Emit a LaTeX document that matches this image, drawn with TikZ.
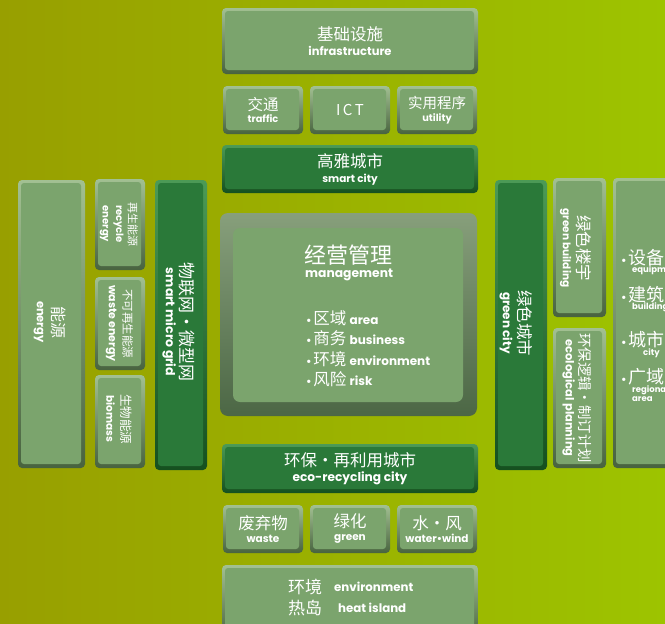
\documentclass[tikz,border=0pt]{standalone}
\usepackage{fontspec}
\newfontfamily\zhf{Noto Sans CJK SC}
\newfontfamily\enf{Poppins}
\newcommand\ZH[2]{{\zhf\fontsize{#1}{#1}\selectfont #2}}
\newcommand\EN[2]{{\enf\bfseries\fontsize{#1}{#1}\selectfont #2}}
\definecolor{bgL}{HTML}{989F00}
\definecolor{bgR}{HTML}{9DC400}
\definecolor{lin}{HTML}{7BA46D}
\definecolor{ltop}{HTML}{A2C092}
\definecolor{lbot}{HTML}{48633F}
\definecolor{din}{HTML}{2A7939}
\definecolor{dtop}{HTML}{4C9A56}
\definecolor{dbot}{HTML}{15501F}
\definecolor{mtop}{HTML}{879F7B}
\definecolor{mbot}{HTML}{4C6745}
\tikzset{
  lbox/.style={rounded corners=4pt, top color=ltop, bottom color=lbot, inner sep=0pt,
    text=white, align=center,
    path picture={\fill[lin, rounded corners=3pt]
      ([shift={(3pt,-3pt)}]path picture bounding box.north west) rectangle
      ([shift={(-4pt,4pt)}]path picture bounding box.south east);}},
  dbox/.style={rounded corners=4pt, top color=dtop, bottom color=dbot, inner sep=0pt,
    text=white, align=center,
    path picture={\fill[din, rounded corners=3pt]
      ([shift={(3pt,-3pt)}]path picture bounding box.north west) rectangle
      ([shift={(-4pt,4pt)}]path picture bounding box.south east);}},
  mbox/.style={rounded corners=8pt, top color=mtop, bottom color=mbot, inner sep=0pt,
    path picture={\fill[lin, rounded corners=7pt]
      ([shift={(13pt,-15pt)}]path picture bounding box.north west) rectangle
      ([shift={(-14pt,14pt)}]path picture bounding box.south east);}},
  txt/.style={text=white, inner sep=0pt, align=center},
  ltxt/.style={text=white, inner sep=0pt, anchor=west, align=left},
}
\begin{document}
\begin{tikzpicture}[x=1pt,y=-1pt]
\useasboundingbox (0,0) rectangle (665,624);
\clip (0,0) rectangle (665,624);
\shade[left color=bgL, right color=bgR] (0,0) rectangle (665,624);

% top column
\node[lbox, minimum width=256pt, minimum height=66pt] (infra) at (350,41)
  {\ZH{16.5}{基础设施}\\[2.4pt]\EN{11.5}{infrastructure}};
\node[lbox, minimum width=80pt, minimum height=48pt] (traffic) at (263,110)
  {\ZH{15.5}{交通}\\[0pt]\EN{9.8}{traffic}};
\node[lbox, minimum width=80pt, minimum height=48pt] (ict) at (350,110)
  {\ZH{15}{I\,C\,T}};
\node[lbox, minimum width=80pt, minimum height=48pt] (util) at (437,110)
  {\ZH{14.5}{实用程序}\\[1.5pt]\EN{9.8}{utility}};
\node[dbox, minimum width=256pt, minimum height=48pt] (smart) at (350,169)
  {\ZH{16.5}{高雅城市}\\[3pt]\EN{10.5}{smart city}};

% management
\node[mbox, minimum width=257pt, minimum height=203pt] (mgmt) at (348.5,314.5) {};
\node[ltxt] (mg1) at (304,255) {\ZH{22}{经营管理}};
\node[ltxt] (mg2) at (305,275) {\EN{12.3}{management}};
\node[ltxt] (mg3) at (306,318) {\EN{11}{•}\,\ZH{16.5}{区域} \EN{12}{area}};
\node[ltxt] (mg4) at (306,338) {\EN{11}{•}\,\ZH{16.5}{商务} \EN{12}{business}};
\node[ltxt] (mg5) at (306,359) {\EN{11}{•}\,\ZH{16.5}{环境} \EN{12}{environment}};
\node[ltxt] (mg6) at (306,379) {\EN{11}{•}\,\ZH{16.5}{风险} \EN{12}{risk}};

% bottom column
\node[dbox, minimum width=256pt, minimum height=49pt] (eco) at (350,468.5)
  {\ZH{16.5}{环保・再利用城市}\\[3.6pt]\EN{12.2}{eco-recycling city}};
\node[lbox, minimum width=80pt, minimum height=48pt] (waste) at (263,529)
  {\ZH{16.5}{废弃物}\\[1pt]\EN{10.5}{waste}};
\node[lbox, minimum width=80pt, minimum height=48pt] (green) at (350,529)
  {\ZH{16.5}{绿化}\\[1pt]\EN{10.5}{green}};
\node[lbox, minimum width=80pt, minimum height=48pt] (water) at (437,529)
  {\ZH{16.5}{水・风}\\[1pt]\EN{10.5}{water•wind}};
\node[lbox, minimum width=256pt, minimum height=75pt] (env) at (350,602.5) {};
\node[ltxt] (env1) at (288,587) {\ZH{17}{环境}};
\node[ltxt] (env2) at (334,587) {\EN{11.8}{environment}};
\node[ltxt] (env3) at (288,608) {\ZH{17}{热岛}};
\node[ltxt] (env4) at (338,608) {\EN{11.8}{heat island}};

% left side
\node[lbox, minimum width=67pt, minimum height=288pt] (energy) at (51.5,324) {};
\node[txt, rotate=-90] (energyt) at (50,322) {\ZH{16}{能源}\\[4pt]\EN{11.5}{energy}};
\node[lbox, minimum width=50pt, minimum height=91pt] (recyc) at (120,224.5) {};
\node[txt, rotate=-90] (recyct) at (119,224) {\ZH{11}{再生能源}\\[0.5pt]\EN{10}{recycle}\\[1.5pt]\EN{10}{energy}};
\node[lbox, minimum width=50pt, minimum height=93pt] (wastee) at (120,323.5) {};
\node[txt, rotate=-90] (wasteet) at (119.5,323.5) {\ZH{11.5}{不可再生能源}\\[2.5pt]\EN{11}{waste energy}};
\node[lbox, minimum width=50pt, minimum height=93pt] (bio) at (120,421.5) {};
\node[txt, rotate=-90] (biot) at (119,419) {\ZH{12.5}{生物能源}\\[3pt]\EN{10.5}{biomass}};
\node[dbox, minimum width=52pt, minimum height=290pt] (grid) at (181,325) {};
\node[txt, rotate=-90] (gridt) at (178.5,322) {\ZH{17}{物联网・微型网}\\[2.5pt]\EN{12.5}{smart micro grid}};

% right side
\node[dbox, minimum width=52pt, minimum height=290pt] (gcity) at (521,325) {};
\node[txt, rotate=-90] (gcityt) at (516,323) {\ZH{16.5}{绿色城市}\\[3.5pt]\EN{12}{green city}};
\node[lbox, minimum width=53pt, minimum height=139pt] (gbuild) at (579.5,247.5) {};
\node[txt, rotate=-90] (gbuildt) at (576,248) {\ZH{16.5}{绿色楼宇}\\[3pt]\EN{10.5}{green building}};
\node[lbox, minimum width=53pt, minimum height=140pt] (eplan) at (579.5,398) {};
\node[txt, rotate=-90] (eplant) at (577,398) {\ZH{14.4}{环保逻辑・制订计划}\\[2pt]\EN{11.5}{ecological planning}};
\node[lbox, minimum width=67pt, minimum height=290pt] (equip) at (646.5,323) {};
\node[ltxt] (b1) at (621,258) {\EN{11}{•}\,\ZH{18}{设备}};
\node[ltxt] (e1) at (632,270) {\EN{8.5}{equipment}};
\node[ltxt] (b2) at (621,295) {\EN{11}{•}\,\ZH{18}{建筑}};
\node[ltxt] (e2) at (632,307) {\EN{8.5}{building}};
\node[ltxt] (b3) at (621,340) {\EN{11}{•}\,\ZH{18}{城市}};
\node[ltxt] (e3) at (643,353) {\EN{8.5}{city}};
\node[ltxt] (b4) at (621,377) {\EN{11}{•}\,\ZH{18}{广域}};
\node[ltxt] (e4) at (632,394) {\EN{8.5}{regional}\\[-3pt]\EN{8.5}{area}};
\end{tikzpicture}
\end{document}
